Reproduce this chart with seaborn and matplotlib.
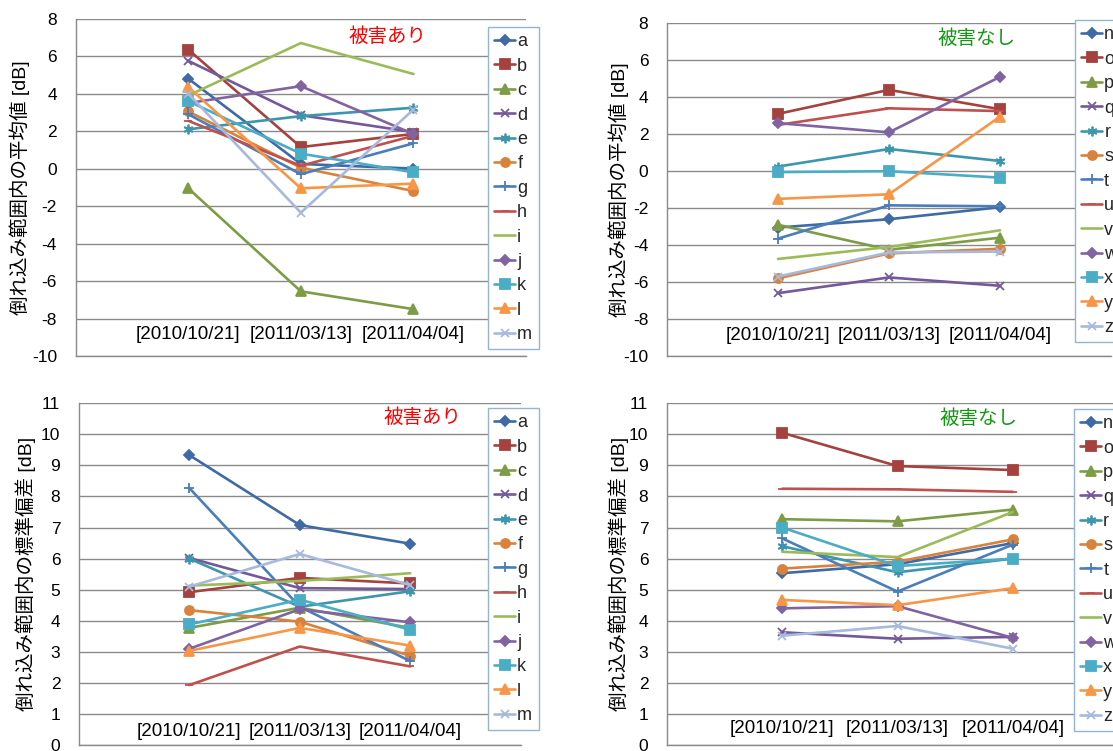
import numpy as np
import pandas as pd
import matplotlib
matplotlib.use("Agg")
import matplotlib.pyplot as plt
import seaborn as sns

# ---- data -------------------------------------------------------------
dates = ["[2010/10/21]", "[2011/03/13]", "[2011/04/04]"]

damaged_names = list("abcdefghijklm")
undamaged_names = list("nopqrstuvwxyz")

# mean within the collapse range [dB] -- damaged sites
mean_damaged = {
    "a": [4.8, 0.25, 0.0],
    "b": [6.35, 1.15, 1.85],
    "c": [-1.05, -6.55, -7.5],
    "d": [5.75, 2.85, 1.95],
    "e": [2.1, 2.8, 3.25],
    "f": [3.05, 0.05, -1.2],
    "g": [2.9, -0.3, 1.35],
    "h": [2.55, 0.15, 1.75],
    "i": [3.9, 6.7, 5.05],
    "j": [3.5, 4.4, 1.85],
    "k": [3.6, 0.8, -0.2],
    "l": [4.35, -1.05, -0.8],
    "m": [4.0, -2.35, 3.15],
}

# mean within the collapse range [dB] -- undamaged sites
mean_undamaged = {
    "n": [-3.05, -2.6, -1.95],
    "o": [3.1, 4.4, 3.35],
    "p": [-2.9, -4.25, -3.6],
    "q": [-6.6, -5.75, -6.2],
    "r": [0.25, 1.2, 0.55],
    "s": [-5.8, -4.45, -4.2],
    "t": [-3.65, -1.85, -1.9],
    "u": [2.5, 3.4, 3.25],
    "v": [-4.75, -4.1, -3.2],
    "w": [2.6, 2.1, 5.1],
    "x": [-0.05, 0.0, -0.35],
    "y": [-1.5, -1.25, 2.95],
    "z": [-5.7, -4.4, -4.35],
}

# standard deviation within the collapse range [dB] -- damaged sites
std_damaged = {
    "a": [9.33, 7.08, 6.48],
    "b": [4.92, 5.38, 5.2],
    "c": [3.77, 4.42, 3.77],
    "d": [6.02, 5.05, 5.02],
    "e": [6.0, 4.45, 4.95],
    "f": [4.34, 3.97, 2.87],
    "g": [8.27, 4.45, 2.7],
    "h": [1.93, 3.17, 2.53],
    "i": [5.13, 5.28, 5.53],
    "j": [3.1, 4.37, 3.95],
    "k": [3.88, 4.68, 3.71],
    "l": [3.03, 3.77, 3.2],
    "m": [5.1, 6.15, 5.15],
}

# standard deviation within the collapse range [dB] -- undamaged sites
std_undamaged = {
    "n": [5.53, 5.82, 6.5],
    "o": [10.05, 8.98, 8.85],
    "p": [7.27, 7.2, 7.58],
    "q": [3.63, 3.42, 3.48],
    "r": [6.4, 5.56, 6.0],
    "s": [5.68, 5.9, 6.62],
    "t": [6.65, 4.94, 6.45],
    "u": [8.25, 8.23, 8.15],
    "v": [6.22, 6.05, 7.5],
    "w": [4.4, 4.47, 3.45],
    "x": [7.0, 5.76, 6.0],
    "y": [4.67, 4.5, 5.05],
    "z": [3.52, 3.83, 3.1],
}

# ---- series styles (same order for both site groups) ------------------
colors = ["#3F6AA5", "#A5423F", "#7E9C45", "#73589A", "#3D96AE", "#D9823B",
          "#4A7EBB", "#C0504D", "#9BBB59", "#8064A2", "#4BACC6", "#F79646",
          "#A7B9DC"]
asterisk = (6, 2, 0)
markers = ["D", "s", "^", "x", asterisk, "o", "+", "_", "", "D", "s", "^", "x"]
msizes = [5, 6.5, 6.5, 6, 7, 6.5, 7, 6, 0, 5, 6.5, 6.5, 6]

sns.set_theme(style="white")
plt.rcParams["font.family"] = ["Liberation Sans", "Noto Sans CJK JP"]
plt.rcParams["axes.unicode_minus"] = False

fig = plt.figure(figsize=(11.13, 7.51), dpi=100)
W, H = 1113, 751


def px_axes(left, top, right, bottom):
    return fig.add_axes([left / W, 1 - bottom / H, (right - left) / W, (bottom - top) / H])


def draw_panel(ax, data, names, ylim, ystep, ylabel, title, title_color,
               title_pos, label_y, ylabel_px, legend_xy):
    x = np.arange(len(dates))
    for idx, name in enumerate(names):
        col = colors[idx]
        df = pd.DataFrame({"date": x, "value": data[name]})
        kw = dict(marker=markers[idx] if markers[idx] else None,
                  markersize=msizes[idx], mec=col, mfc=col, mew=1.3)
        sns.lineplot(data=df, x="date", y="value", ax=ax, color=col,
                     linewidth=1.9, label=name, legend=False, **kw)
    for line in ax.lines:
        line.set_markeredgecolor(line.get_color())

    ax.set_xlim(-1, 3)
    ax.set_ylim(*ylim)
    ax.set_yticks(np.arange(ylim[0], ylim[1] + 0.001, ystep))
    ax.set_xticks([])
    ax.set_xlabel("")
    ax.grid(axis="y", color="#8a8a8a", linewidth=1.0)
    ax.grid(axis="x", visible=False)
    for side in ("top", "right"):
        ax.spines[side].set_visible(False)
    for side in ("left", "bottom"):
        ax.spines[side].set_color("#8a8a8a")
        ax.spines[side].set_linewidth(1.0)
    ax.tick_params(axis="y", length=0, pad=13.5, labelsize=12.5,
                   labelcolor="black")

    for i, d in enumerate(dates):
        ax.text(i, label_y, d, ha="center", va="center", fontsize=13.5,
                color="black")

    ax.set_ylabel(ylabel, fontsize=14, color="black")
    bbox = ax.get_position()
    lx = (ylabel_px / W - bbox.x0) / bbox.width
    ax.yaxis.set_label_coords(lx, 0.5)
    ax.yaxis.label.set_verticalalignment("center")

    ax.text(title_pos[0], title_pos[1], title, transform=ax.transAxes,
            ha="center", va="center", fontsize=14, color=title_color)

    leg = ax.legend(loc="upper left",
                    bbox_to_anchor=(legend_xy[0] / W, 1 - legend_xy[1] / H),
                    bbox_transform=fig.transFigure, borderaxespad=0,
                    frameon=True, fancybox=False, framealpha=1,
                    edgecolor="#95B3D7", fontsize=13, handlelength=1.17,
                    handletextpad=0.1, labelspacing=0.41, borderpad=0.35)
    leg.get_frame().set_linewidth(1.0)


ylabel_mean = "倒れ込み範囲内の平均値 [dB]"
ylabel_std = "倒れ込み範囲内の標準偏差 [dB]"

ax1 = px_axes(75.7, 18.7, 526, 356)
draw_panel(ax1, mean_damaged, damaged_names, (-10, 8), 2, ylabel_mean,
           "被害あり", "#FF0000", (0.692, 0.946), -8.87, 20, (488, 27))

ax2 = px_axes(667, 23.3, 1111, 356)
draw_panel(ax2, mean_undamaged, undamaged_names, (-10, 8), 2, ylabel_mean,
           "被害なし", "#119911", (0.696, 0.955), -8.9, 619, (1075, 20))

ax3 = px_axes(79, 403.3, 520.6, 745)
draw_panel(ax3, std_damaged, damaged_names, (0, 11), 1, ylabel_std,
           "被害あり", "#FF0000", (0.778, 0.959), 0.43, 25.7, (488, 408))

ax4 = px_axes(667, 403.3, 1128, 745)
draw_panel(ax4, std_undamaged, undamaged_names, (0, 11), 1, ylabel_std,
           "被害なし", "#119911", (0.676, 0.956), 0.52, 619, (1074, 409))

fig.savefig("out.png", dpi=100, facecolor="white")
